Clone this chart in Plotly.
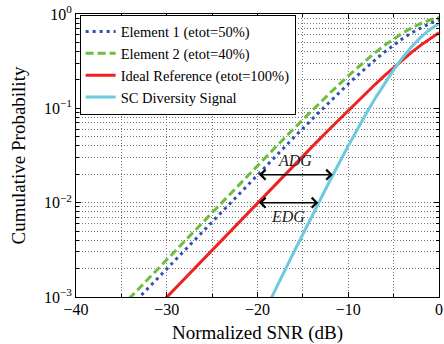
import math
import plotly.graph_objects as go

snr_db = [-36, -34, -32, -30, -28, -26, -24, -22, -20, -18, -16, -14, -12, -10,
          -9, -8, -7, -6, -5, -4, -3, -2, -1, 0]

element1 = [5.023e-4, 7.959e-4, 1.261e-3, 1.998e-3, 3.165e-3, 5.011e-3, 7.930e-3,
            0.01254, 0.01980, 0.03120, 0.04900, 0.07653, 0.1186, 0.1813,
            0.2226, 0.2717, 0.3290, 0.3949, 0.4687, 0.5490, 0.6330, 0.7169, 0.7958, 0.8647]

element2 = [6.278e-4, 9.948e-4, 1.576e-3, 2.497e-3, 3.955e-3, 6.260e-3, 9.904e-3,
            0.01565, 0.02469, 0.03885, 0.06087, 0.09474, 0.1459, 0.2212,
            0.2700, 0.3272, 0.3927, 0.4663, 0.5464, 0.6303, 0.7143, 0.7935, 0.8627, 0.9179]

ideal = [2.512e-4, 3.980e-4, 6.308e-4, 9.995e-4, 1.584e-3, 2.509e-3, 3.973e-3,
         6.290e-3, 9.950e-3, 0.01572, 0.02481, 0.03903, 0.06115, 0.09516,
         0.1183, 0.1466, 0.1809, 0.2221, 0.2711, 0.3284, 0.3942, 0.4679, 0.5481, 0.6321]

sc_div = [3.15e-7, 7.9e-7, 1.99e-6, 4.99e-6, 1.25e-5, 3.14e-5, 7.854e-5,
          1.963e-4, 4.889e-4, 1.212e-3, 2.983e-3, 7.250e-3, 0.01730, 0.04010,
          0.06010, 0.08890, 0.1292, 0.1841, 0.2561, 0.3460, 0.4522, 0.5689, 0.6865, 0.7937]

names = ["Element 1 (etot=50%)", "Element 2 (etot=40%)",
         "Ideal Reference (etot=100%)", "SC Diversity Signal"]

# diversity gain markers: label, probability level, start SNR, end SNR
gain_labels = ["ADG", "EDG"]
gain_levels = [0.0198, 0.0100]
gain_start = [-20.0, -20.0]
gain_end = [-11.7, -13.3]
gain_text_shift = [14, -14]

x_ticks = [-40, -30, -20, -10, 0]
x_tick_text = ["−40", "−30", "−20", "−10", "0"]
y_ticks = [1e-3, 1e-2, 1e-1, 1]
y_tick_text = ["10<sup>−3</sup>", "10<sup>−2</sup>", "10<sup>−1</sup>", "10<sup>0</sup>"]

FONT = "Liberation Serif"
GRID = "#777"
GDASH = "1px,2px"

fig = go.Figure()
fig.add_trace(go.Scatter(x=snr_db, y=element1, mode="lines", name=names[0],
                         line=dict(color="#3050b0", width=3, dash="3px,4px")))
fig.add_trace(go.Scatter(x=snr_db, y=element2, mode="lines", name=names[1],
                         line=dict(color="#6cbf3c", width=3, dash="8px,4px")))
fig.add_trace(go.Scatter(x=snr_db, y=ideal, mode="lines", name=names[2],
                         line=dict(color="#ee2222", width=3)))
fig.add_trace(go.Scatter(x=snr_db, y=sc_div, mode="lines", name=names[3],
                         line=dict(color="#6ccbdc", width=3)))

for lab, lev, s, e, sh in zip(gain_labels, gain_levels, gain_start, gain_end, gain_text_shift):
    ly = math.log10(lev)
    fig.add_annotation(x=e, y=ly, ax=s, ay=ly, xref="x", yref="y", axref="x", ayref="y",
                       text="", showarrow=True, arrowhead=4, arrowside="end+start",
                       arrowsize=1.3, arrowwidth=1.5, arrowcolor="black")
    fig.add_annotation(x=(s + e) / 2, y=ly, xref="x", yref="y", text="<i>" + lab + "</i>",
                       showarrow=False, yshift=sh,
                       font=dict(family=FONT, size=16, color="#222"))

fig.update_layout(
    width=444, height=344,
    margin=dict(l=76, r=5, t=14, b=47),
    paper_bgcolor="white", plot_bgcolor="white",
    font=dict(family=FONT, size=16, color="black"),
    showlegend=True,
    legend=dict(x=0.01, y=0.998, xanchor="left", yanchor="top",
                bgcolor="white", bordercolor="black", borderwidth=1,
                font=dict(family=FONT, size=14.5), tracegroupgap=0),
    xaxis=dict(range=[-40, 0], tickvals=x_ticks, ticktext=x_tick_text, automargin=False,
               ticks="inside", ticklen=5, tickcolor="black", ticklabelstandoff=-2,
               showline=True, linecolor="black", linewidth=1, mirror="ticks",
               showgrid=True, gridcolor=GRID, griddash=GDASH, gridwidth=1,
               minor=dict(dtick=5, ticks="inside", ticklen=3, tickcolor="black",
                          showgrid=True, gridcolor=GRID, griddash=GDASH),
               zeroline=False,
               title=dict(text="Normalized SNR (dB)", font=dict(size=19), standoff=11)),
    yaxis=dict(type="log", range=[-3, 0], tickvals=y_ticks, ticktext=y_tick_text, automargin=False,
               ticks="inside", ticklen=5, tickcolor="black",
               showline=True, linecolor="black", linewidth=1, mirror="ticks",
               showgrid=True, gridcolor=GRID, griddash=GDASH, gridwidth=1,
               minor=dict(dtick="D1", ticks="inside", ticklen=3, tickcolor="black",
                          showgrid=True, gridcolor=GRID, griddash=GDASH),
               zeroline=False,
               title=dict(text="Cumulative Probability", font=dict(size=19), standoff=13)),
)

# remove the page's default body margin so the 444x344 figure fills the window
fig.write_html("out.html", config={"displayModeBar": False},
               post_script="document.body.style.margin='0';")
